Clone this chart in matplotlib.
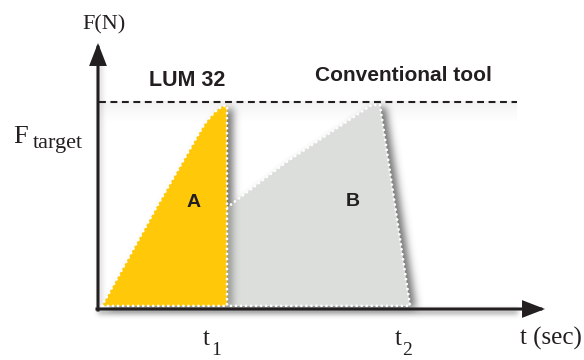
import numpy as np
import matplotlib
matplotlib.use("Agg")
import matplotlib.pyplot as plt
from matplotlib.patches import Polygon, FancyArrowPatch
from matplotlib.path import Path

# ---------------- data (t in units of t1, F in units of F_target) ----------------
lum_t = [0.03, 0.455, 0.752, 0.829, 0.894, 0.935, 0.965, 1.0, 1.0]
lum_F = [0.015, 0.494, 0.816, 0.897, 0.945, 0.968, 0.98, 0.982, 0.015]
conv_t = [1.0, 1.0, 1.46, 2.122, 2.186, 2.419]
conv_F = [0.015, 0.49, 0.71, 0.986, 0.986, 0.015]
F_target = 1.0
series_labels = ["LUM 32", "Conventional tool"]
area_labels = ["A", "B"]
tick_labels = ["1", "2"]

# ---------------- layout ----------------
W, H = 584, 360
OX, OY = 98.0, 309.0      # pixel of origin (from top-left)
SX, SY = 129.0, 207.0     # pixels per data unit

def d(px, py):
    return (px - OX) / SX, (OY - py) / SY

X0, X1 = d(0, 0)[0], d(W, 0)[0]
Y0, Y1 = d(0, H)[1], d(0, 0)[1]

fig = plt.figure(figsize=(W / 100, H / 100), dpi=100)
ax = fig.add_axes([0, 0, 1, 1])
ax.set_xlim(X0, X1)
ax.set_ylim(Y0, Y1)
ax.axis("off")

INK = "#231f20"
YEL = "#ffc90a"
GRY = "#dcdedb"

lum_xy = np.column_stack([lum_t, lum_F])
conv_xy = np.column_stack([conv_t, conv_F])

# ---------------- soft drop shadows (raster) ----------------
xs = (np.arange(W) + 0.5 - OX) / SX
ys = (OY - (np.arange(H) + 0.5)) / SY
GX, GY = np.meshgrid(xs, ys)

def mask_for(poly, dx, dy):
    p = Path(poly)
    pts = np.column_stack([(GX - dx / SX).ravel(), (GY + dy / SY).ravel()])
    return p.contains_points(pts).reshape(H, W).astype(float)

def blur(img, s):
    r = int(3 * s)
    k = np.exp(-0.5 * (np.arange(-r, r + 1) / s) ** 2)
    k /= k.sum()
    img = np.apply_along_axis(lambda v: np.convolve(v, k, mode="same"), 1, img)
    img = np.apply_along_axis(lambda v: np.convolve(v, k, mode="same"), 0, img)
    return img

sh = np.zeros((H, W))
sh = np.maximum(sh, mask_for(conv_xy, 6, 2))
sh = np.maximum(sh, mask_for(lum_xy, 6, 2))
sh = blur(sh, 4.0)
# shadow of the yellow area falling on the grey one
sh_on = blur(mask_for(lum_xy, 6, 2), 3.5) * mask_for(conv_xy, 0, 0)
# axis shadows
axis_sh = np.zeros((H, W))
axis_sh[int(OY) + 1:int(OY) + 5, int(OX):int(OX) + 420] = 1.0
axis_sh[60:int(OY), int(OX) + 1:int(OX) + 4] = 0.5
axis_sh = blur(axis_sh, 2.5)
alpha = np.clip(0.7 * sh + 0.5 * axis_sh, 0, 1)
rgba = np.zeros((H, W, 4))
rgba[..., :3] = 0.22
rgba[..., 3] = alpha
ax.imshow(rgba, extent=(X0, X1, Y0, Y1), origin="upper", zorder=1,
          interpolation="bilinear", aspect="auto")
rgba2 = np.zeros((H, W, 4))
rgba2[..., :3] = 0.3
rgba2[..., 3] = np.clip(0.45 * sh_on, 0, 1)
ax.imshow(rgba2, extent=(X0, X1, Y0, Y1), origin="upper", zorder=2.2,
          interpolation="bilinear", aspect="auto")

# faint band below the target line
band_y = np.linspace(0, 1, 40)[:, None]
band = np.zeros((40, 2, 4))
band[..., :3] = 0.5
band[..., 3] = 0.10 * (1 - band_y) ** 1.5
ax.imshow(band, extent=(d(99, 0)[0], d(517, 0)[0], d(0, 125)[1], F_target),
          origin="upper", zorder=0.5, interpolation="bilinear", aspect="auto")

# ---------------- filled areas ----------------
ax.add_patch(Polygon(conv_xy, closed=True, facecolor=GRY, edgecolor="none", zorder=2))
ax.add_patch(Polygon(lum_xy, closed=True, facecolor=YEL, edgecolor="none", zorder=3))

dot = dict(color="white", lw=2.0, linestyle=(0, (0.01, 1.8)),
           dash_capstyle="round", solid_capstyle="round")
ax.plot(conv_t[1:] + [conv_t[0]], conv_F[1:] + [conv_F[0]], zorder=2.5, **dot)
ax.plot(lum_t + [lum_t[0]], lum_F + [lum_F[0]], zorder=3.5, **dot)

# target line
ax.plot([d(99, 0)[0], d(517, 0)[0]], [F_target, F_target], color=INK, lw=1.5,
        linestyle=(0, (3.3, 2.2)), dash_capstyle="butt", zorder=4)

# ---------------- axes arrows ----------------
arr = dict(arrowstyle="-|>,head_length=0.62,head_width=0.24", mutation_scale=20,
           color=INK, lw=2.2, shrinkA=0, shrinkB=0, joinstyle="miter",
           capstyle="projecting", zorder=6)
ax.add_patch(FancyArrowPatch(d(OX, OY + 1), d(OX, 43), **arr))
ax.add_patch(FancyArrowPatch(d(OX - 1, OY), d(545, OY), **arr))

# ---------------- text ----------------
serif = "Liberation Serif"
sans = "Liberation Sans"

def txt(px, py, s, size, family, weight="normal", ha="left"):
    ax.text(*d(px, py), s, fontsize=size, family=family, weight=weight,
            ha=ha, va="baseline", color=INK, zorder=7)

txt(104, 29, "F(N)", 16, serif, ha="center")
txt(13, 143, "F", 19, serif)
txt(33, 148, "target", 16, serif)
txt(203, 345, "t", 18, serif)
txt(211, 355, tick_labels[0], 14, serif)
txt(395, 345, "t", 18, serif)
txt(402, 355, tick_labels[1], 14, serif)
txt(520, 345, "t (sec)", 18, serif)

txt(187.5, 86, series_labels[0], 15.5, sans, "bold", ha="center")
txt(403.5, 81.5, series_labels[1], 15, sans, "bold", ha="center")
txt(193.5, 207, area_labels[0], 14, sans, "bold", ha="center")
txt(352.5, 206, area_labels[1], 14, sans, "bold", ha="center")

fig.savefig("out.png", dpi=100)
